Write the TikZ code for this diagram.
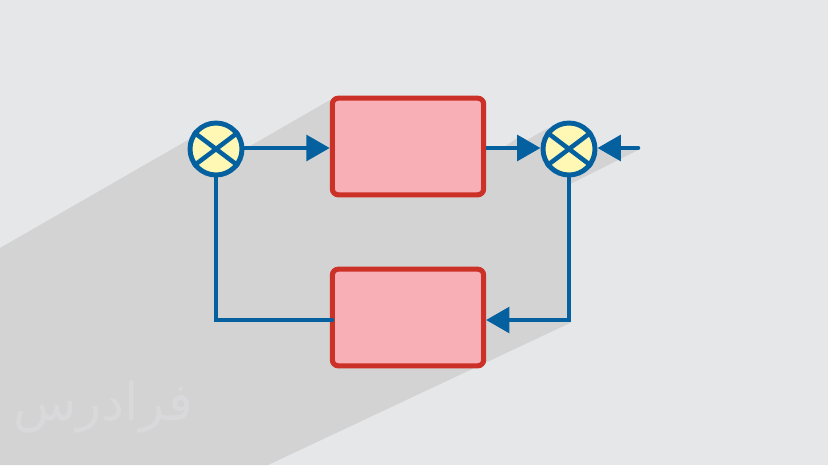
\documentclass[tikz,border=0pt]{standalone}
\usepackage{fontspec}
\usetikzlibrary{arrows.meta}
\TeXXeTstate=1
\newfontfamily\arabicfont[Script=Arabic]{DejaVu Sans}
\definecolor{pagegray}{HTML}{E6E7E9}
\definecolor{shadowgray}{HTML}{D3D3D3}
\definecolor{markgray}{HTML}{D9D9DB}
\definecolor{boxred}{HTML}{CB3126}
\definecolor{boxpink}{HTML}{F8B0B6}
\definecolor{flowblue}{HTML}{04609F}
\definecolor{sumyellow}{HTML}{FEF8B4}
\tikzset{
  blockbox/.style={draw=boxred, fill=boxpink, line width=3.8pt, rounded corners=4.5pt,
    minimum width=113.5pt, minimum height=72.5pt, inner sep=0pt},
  sumnode/.style={circle, draw=flowblue, fill=sumyellow, line width=3.7pt,
    minimum size=39pt, inner sep=0pt},
  flow/.style={draw=flowblue, line width=3.4pt},
  flowtip/.style={flow, -{Triangle[length=17.5pt, width=19pt]}}
}
\begin{document}
\begin{tikzpicture}[x=0.75pt, y=-0.75pt]
  \useasboundingbox (0,0) rectangle (828,465);
  % Background and long shadow
  \fill[pagegray] (0,0) rectangle (828,465);
  \fill[shadowgray] (0,248) -- (195,136) -- (216,149) -- (245,149) -- (330,100)
    -- (486,100) -- (486,148) -- (503,148) -- (520,136) -- (527,140) -- (548,128)
    -- (569,149) -- (638,150) -- (570,184) -- (570,323) -- (268,465) -- (0,465) -- cycle;

  % Watermark
  \node[text=markgray, font=\arabicfont\fontsize{39}{39}\selectfont] (watermark) at (103,407) {\beginR فرادرس\endR};

  % Free ends of the connectors
  \coordinate (inputend) at (638,148);
  \coordinate (feedin) at (486,320);
  \coordinate (feedout) at (332,320);

  % Blocks
  \node[blockbox] (forwardbox) at (408,146.5) {};
  \node[blockbox] (feedbackbox) at (408,317.5) {};

  % Summing junctions
  \node[sumnode] (sumleft) at (216,149) {};
  \node[sumnode] (sumright) at (569,149) {};
  \foreach \s in {sumleft,sumright}
    \foreach \a in {37,143}
      \draw[flow] (\s.\a) -- (\s.\a+180);

  % Connectors
  \draw[flowtip] (sumleft.east |- 0,148) -- (forwardbox.west |- 0,148);
  \draw[flowtip] (forwardbox.east |- 0,148) -- (sumright.west |- 0,148);
  \draw[flowtip, line cap=round] (inputend) -- (sumright.east |- inputend);
  \draw[flowtip] (sumright.south) |- (feedin);
  \draw[flow, line cap=round] (sumleft.south) |- (feedout);
\end{tikzpicture}
\end{document}
